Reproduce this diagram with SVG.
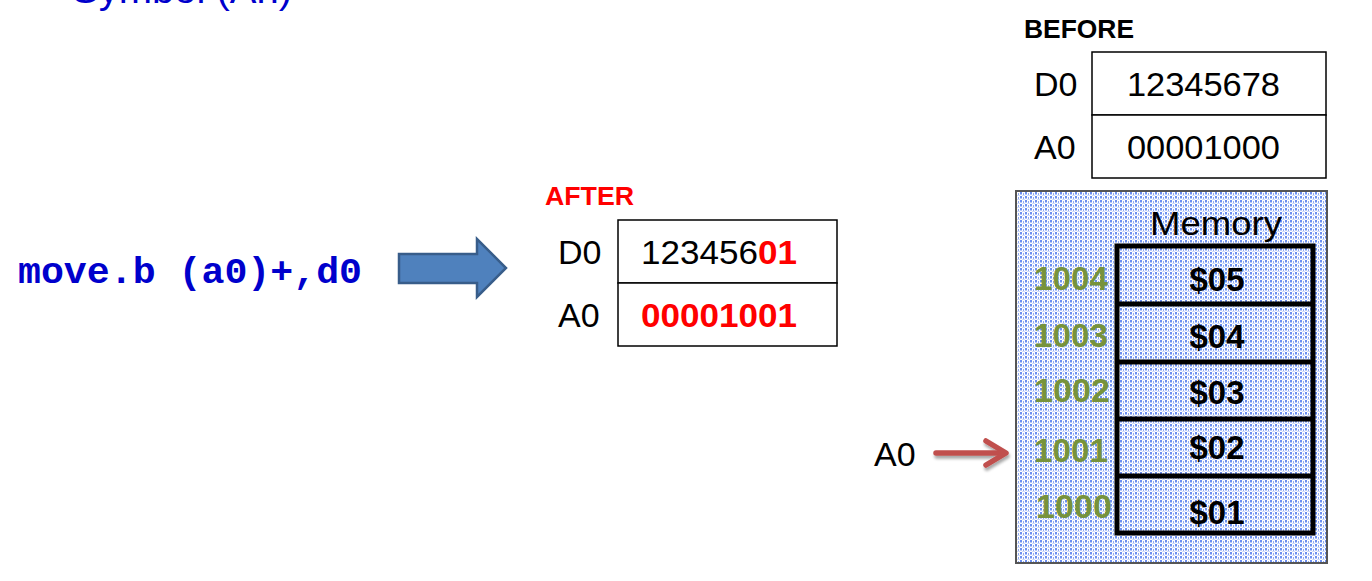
<svg xmlns="http://www.w3.org/2000/svg" width="1372" height="581" viewBox="0 0 1372 581">
<defs>
<pattern id="dots" width="5" height="4" patternUnits="userSpaceOnUse">
<rect width="5" height="4" fill="#ffffff"/>
<rect x="0" y="0" width="2" height="2" fill="#6b8ff0"/>
<rect x="0" y="2" width="2" height="1" fill="#b5c8f7"/>
<rect x="3" y="1" width="1" height="2" fill="#8ea9f3"/>
<rect x="2" y="3" width="3" height="1" fill="#d3defa"/>
</pattern>
<filter id="sh" x="-20%" y="-50%" width="140%" height="200%">
<feGaussianBlur in="SourceAlpha" stdDeviation="1.5"/>
<feOffset dx="1" dy="3" result="b"/>
<feComponentTransfer><feFuncA type="linear" slope="0.35"/></feComponentTransfer>
<feMerge><feMergeNode/><feMergeNode in="SourceGraphic"/></feMerge>
</filter>
</defs>
<style>
.s{font-family:"Liberation Sans",Arial,sans-serif}
.lbl{font-family:"Liberation Sans",Arial,sans-serif;font-size:34px;fill:#000}
.val{font-family:"Liberation Sans",Arial,sans-serif;font-size:34px;fill:#000}
.red{fill:#ff0000;font-weight:bold}
.reg{fill:#fff;stroke:#000;stroke-width:1.5}
.addr{font-family:"Liberation Sans",Arial,sans-serif;font-size:33px;font-weight:bold;fill:#77933c}
.mv{font-family:"Liberation Sans",Arial,sans-serif;font-size:33px;font-weight:bold;fill:#000}
.cell{fill:none;stroke:#000;stroke-width:5}
</style>

<g id="title">
<text class="s" x="72" y="3" font-size="38" fill="#0000cc" textLength="220" lengthAdjust="spacingAndGlyphs">Symbol (An)</text>
</g>

<g id="instruction">
<text x="18" y="283" font-family="'Liberation Mono','Courier New',monospace" font-size="37" font-weight="bold" fill="#0000cc" textLength="344" lengthAdjust="spacingAndGlyphs">move.b (a0)+,d0</text>
</g>

<g id="connectors">
<path d="M399,254 H477 V239 L506,268 L477,297 V283 H399 Z" fill="#4f81bd" stroke="#385d8a" stroke-width="2.5" stroke-linejoin="miter"/>
<g filter="url(#sh)" stroke="#c0504d" stroke-width="5.5" stroke-linecap="round" stroke-linejoin="round" fill="none">
<line x1="936" y1="453" x2="1004" y2="453"/>
<polyline points="986,441 1006,453 986,465"/>
</g>
</g>

<g id="after">
<text class="s" x="545" y="205" font-size="26" font-weight="bold" fill="#ff0000" textLength="89" lengthAdjust="spacingAndGlyphs">AFTER</text>
<rect class="reg" x="618" y="220" width="219" height="63"/>
<rect class="reg" x="618" y="283" width="219" height="63"/>
<text class="lbl" x="558" y="264">D0</text>
<text class="lbl" x="558" y="327">A0</text>
<text class="val" x="641" y="264" textLength="156" lengthAdjust="spacingAndGlyphs">123456<tspan class="red">01</tspan></text>
<text class="val red" x="641" y="327" textLength="156" lengthAdjust="spacingAndGlyphs">00001001</text>
</g>

<g id="before">
<text class="s" x="1024" y="38" font-size="26" font-weight="bold" fill="#000" textLength="110" lengthAdjust="spacingAndGlyphs">BEFORE</text>
<rect class="reg" x="1092" y="52" width="234" height="63"/>
<rect class="reg" x="1092" y="115" width="234" height="63"/>
<text class="lbl" x="1034" y="96">D0</text>
<text class="lbl" x="1034" y="159">A0</text>
<text class="val" x="1127" y="96" textLength="153" lengthAdjust="spacingAndGlyphs">12345678</text>
<text class="val" x="1127" y="159" textLength="153" lengthAdjust="spacingAndGlyphs">00001000</text>
</g>

<g id="a0-pointer">
<text class="lbl" x="874" y="466">A0</text>
</g>

<g id="memory">
<rect x="1016" y="191" width="311" height="372" fill="url(#dots)" stroke="#555" stroke-width="2"/>
<text class="s" x="1150" y="235" font-size="34" fill="#000" textLength="132" lengthAdjust="spacingAndGlyphs">Memory</text>
<rect class="cell" x="1117" y="246" width="196" height="287"/>
<line class="cell" x1="1117" y1="304" x2="1313" y2="304"/>
<line class="cell" x1="1117" y1="362" x2="1313" y2="362"/>
<line class="cell" x1="1117" y1="419" x2="1313" y2="419"/>
<line class="cell" x1="1117" y1="476" x2="1313" y2="476"/>
<g text-anchor="middle">
<text class="mv" x="1217" y="291">$05</text>
<text class="mv" x="1217" y="348">$04</text>
<text class="mv" x="1217" y="404">$03</text>
<text class="mv" x="1217" y="459">$02</text>
<text class="mv" x="1217" y="524">$01</text>
</g>
<text class="addr" x="1034" y="290" textLength="74" lengthAdjust="spacingAndGlyphs">1004</text>
<text class="addr" x="1034" y="347" textLength="74" lengthAdjust="spacingAndGlyphs">1003</text>
<text class="addr" x="1034" y="402" textLength="76" lengthAdjust="spacingAndGlyphs">1002</text>
<text class="addr" x="1034" y="462" textLength="74" lengthAdjust="spacingAndGlyphs">1001</text>
<text class="addr" x="1036" y="518" textLength="76" lengthAdjust="spacingAndGlyphs">1000</text>
</g>
</svg>
